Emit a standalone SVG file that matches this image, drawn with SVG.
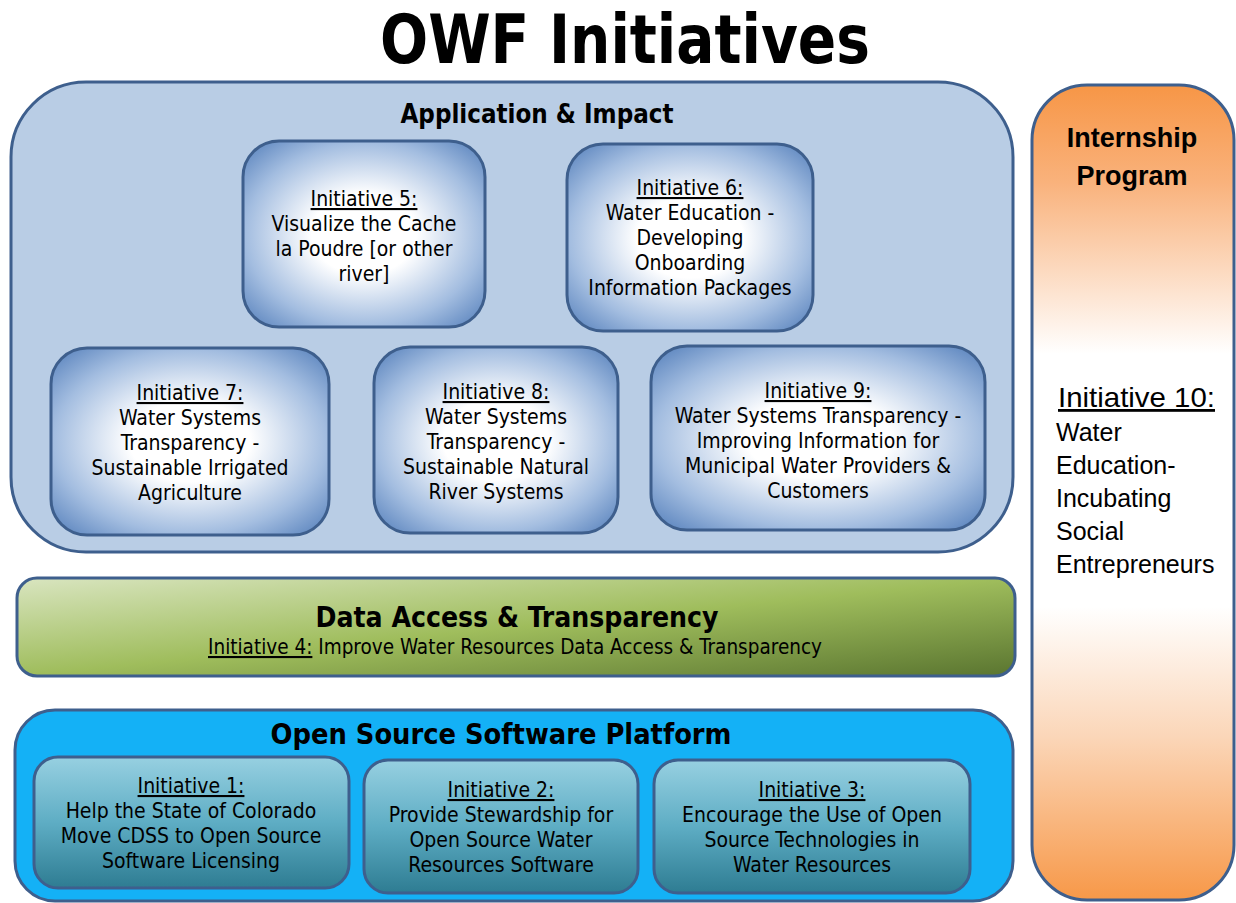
<svg xmlns="http://www.w3.org/2000/svg" width="1236" height="903" viewBox="0 0 1236 903">
<defs>
<radialGradient id="gBlue" cx="50%" cy="50%" r="72%">
<stop offset="0" stop-color="#ffffff"/>
<stop offset="0.3" stop-color="#ffffff"/>
<stop offset="0.68" stop-color="#a3bde0"/>
<stop offset="1" stop-color="#4a77b6"/>
</radialGradient>
<linearGradient id="gGreen" x1="0" y1="0" x2="1" y2="1">
<stop offset="0" stop-color="#d9e5c0"/>
<stop offset="0.5" stop-color="#9fbd5c"/>
<stop offset="1" stop-color="#5a7530"/>
</linearGradient>
<linearGradient id="gTeal" x1="0" y1="0" x2="0" y2="1">
<stop offset="0" stop-color="#97d0e1"/>
<stop offset="0.5" stop-color="#5eadc4"/>
<stop offset="1" stop-color="#2e7c92"/>
</linearGradient>
<linearGradient id="gOrange" x1="0" y1="0" x2="0" y2="1">
<stop offset="0" stop-color="#f79646"/>
<stop offset="0.12" stop-color="#f9b27c"/>
<stop offset="0.33" stop-color="#ffffff"/>
<stop offset="0.64" stop-color="#ffffff"/>
<stop offset="0.8" stop-color="#fbd6b8"/>
<stop offset="1" stop-color="#f79848"/>
</linearGradient>
</defs>
<style>
.box{stroke:#3e5f8d;stroke-width:3}
.t{font-family:"DejaVu Sans Condensed","DejaVu Sans",sans-serif;font-size:21px;fill:#000;text-anchor:middle}
.h{font-family:"DejaVu Sans Condensed","DejaVu Sans",sans-serif;font-weight:bold;fill:#000;text-anchor:middle}
.c{font-family:"Liberation Sans",Arial,sans-serif;fill:#000}
.u{text-decoration:underline}
</style>

<text class="h" x="625" y="63" font-size="68" textLength="490" lengthAdjust="spacingAndGlyphs">OWF Initiatives</text>

<g id="application-impact">
<rect class="box" x="11" y="82" width="1002" height="470" rx="75" fill="#b9cde5"/>
<text class="h" x="537" y="123" font-size="26" textLength="273" lengthAdjust="spacingAndGlyphs">Application &amp; Impact</text>
</g>

<g id="initiative-5">
<rect class="box" x="243" y="141" width="242" height="186" rx="36" fill="url(#gBlue)"/>
<text class="t"><tspan class="u" x="364" y="206">Initiative 5:</tspan><tspan x="364" y="231">Visualize the Cache</tspan><tspan x="364" y="256">la Poudre [or other</tspan><tspan x="364" y="281">river]</tspan></text>
</g>

<g id="initiative-6">
<rect class="box" x="567" y="144" width="246" height="187" rx="36" fill="url(#gBlue)"/>
<text class="t"><tspan class="u" x="690" y="195">Initiative 6:</tspan><tspan x="690" y="220">Water Education -</tspan><tspan x="690" y="245">Developing</tspan><tspan x="690" y="270">Onboarding</tspan><tspan x="690" y="295">Information Packages</tspan></text>
</g>

<g id="initiative-7">
<rect class="box" x="51" y="348" width="278" height="187" rx="36" fill="url(#gBlue)"/>
<text class="t"><tspan class="u" x="190" y="400">Initiative 7:</tspan><tspan x="190" y="425">Water Systems</tspan><tspan x="190" y="450">Transparency -</tspan><tspan x="190" y="475">Sustainable Irrigated</tspan><tspan x="190" y="500">Agriculture</tspan></text>
</g>

<g id="initiative-8">
<rect class="box" x="374" y="347" width="244" height="186" rx="36" fill="url(#gBlue)"/>
<text class="t"><tspan class="u" x="496" y="399">Initiative 8:</tspan><tspan x="496" y="424">Water Systems</tspan><tspan x="496" y="449">Transparency -</tspan><tspan x="496" y="474">Sustainable Natural</tspan><tspan x="496" y="499">River Systems</tspan></text>
</g>

<g id="initiative-9">
<rect class="box" x="651" y="346" width="334" height="184" rx="36" fill="url(#gBlue)"/>
<text class="t"><tspan class="u" x="818" y="398">Initiative 9:</tspan><tspan x="818" y="423">Water Systems Transparency -</tspan><tspan x="818" y="448">Improving Information for</tspan><tspan x="818" y="473">Municipal Water Providers &amp;</tspan><tspan x="818" y="498">Customers</tspan></text>
</g>

<g id="data-access">
<rect class="box" x="17" y="578" width="998" height="98" rx="20" fill="url(#gGreen)"/>
<text class="h" x="517" y="627" font-size="28" textLength="403" lengthAdjust="spacingAndGlyphs">Data Access &amp; Transparency</text>
<text class="t" x="515" y="654" font-size="20" textLength="614" lengthAdjust="spacingAndGlyphs"><tspan class="u">Initiative 4:</tspan> Improve Water Resources Data Access &amp; Transparency</text>
</g>

<g id="open-source">
<rect class="box" x="15" y="710" width="998" height="191" rx="40" fill="#14b1f6"/>
<text class="h" x="501" y="744" font-size="28" textLength="461" lengthAdjust="spacingAndGlyphs">Open Source Software Platform</text>
</g>

<g id="initiative-1">
<rect class="box" x="34" y="757" width="315" height="131" rx="24" fill="url(#gTeal)"/>
<text class="t"><tspan class="u" x="191" y="793">Initiative 1:</tspan><tspan x="191" y="818">Help the State of Colorado</tspan><tspan x="191" y="843">Move CDSS to Open Source</tspan><tspan x="191" y="868">Software Licensing</tspan></text>
</g>

<g id="initiative-2">
<rect class="box" x="364" y="760" width="274" height="133" rx="24" fill="url(#gTeal)"/>
<text class="t"><tspan class="u" x="501" y="797">Initiative 2:</tspan><tspan x="501" y="822">Provide Stewardship for</tspan><tspan x="501" y="847">Open Source Water</tspan><tspan x="501" y="872">Resources Software</tspan></text>
</g>

<g id="initiative-3">
<rect class="box" x="654" y="760" width="316" height="133" rx="24" fill="url(#gTeal)"/>
<text class="t"><tspan class="u" x="812" y="797">Initiative 3:</tspan><tspan x="812" y="822">Encourage the Use of Open</tspan><tspan x="812" y="847">Source Technologies in</tspan><tspan x="812" y="872">Water Resources</tspan></text>
</g>

<g id="internship">
<rect class="box" x="1032" y="85" width="202" height="815" rx="55" fill="url(#gOrange)"/>
<text class="c" font-weight="bold" font-size="27" text-anchor="middle"><tspan x="1132" y="147">Internship</tspan><tspan x="1132" y="185">Program</tspan></text>
<text class="c u" x="1058" y="407" font-size="28" textLength="157" lengthAdjust="spacingAndGlyphs">Initiative 10:</text>
<text class="c" font-size="25"><tspan x="1056" y="441">Water</tspan><tspan x="1056" y="474">Education-</tspan><tspan x="1056" y="507">Incubating</tspan><tspan x="1056" y="540">Social</tspan><tspan x="1056" y="573">Entrepreneurs</tspan></text>
</g>

<g id="connectors"></g>
</svg>
